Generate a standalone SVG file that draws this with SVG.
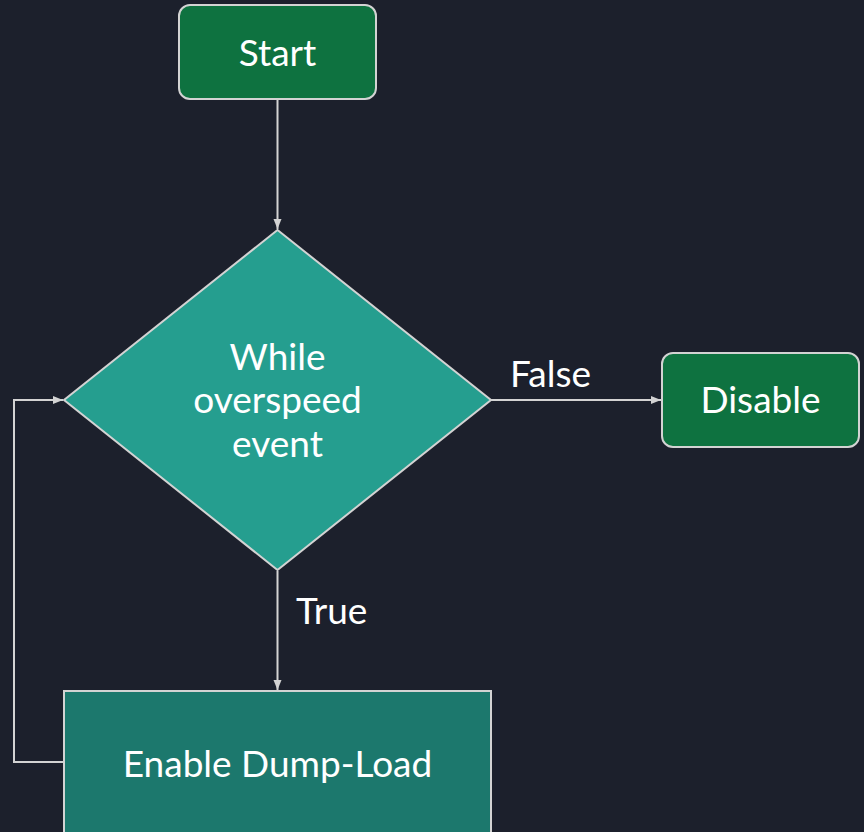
<svg xmlns="http://www.w3.org/2000/svg" width="864" height="832" viewBox="0 0 864 832">
<style>
.lbl{font-family:Lato,"Noto Sans","Liberation Sans",sans-serif;font-size:37px;fill:#ffffff;text-anchor:middle}
.edge{font-family:Lato,"Noto Sans","Liberation Sans",sans-serif;font-size:37px;fill:#ffffff}
.conn{fill:none;stroke:#d3d3d3;stroke-width:2}
.node{stroke:#d3d3d3;stroke-width:2}
</style>
<defs>
<marker id="arr" viewBox="0 0 10 10" refX="10" refY="5" markerWidth="10" markerHeight="10" markerUnits="userSpaceOnUse" orient="auto">
<path d="M0,1 L10,5 L0,9 z" fill="#d3d3d3"/>
</marker>
</defs>
<rect width="864" height="832" fill="#1c202c"/>
<g id="connectors">
<path class="conn" d="M277.5,99 V229" marker-end="url(#arr)"/>
<path class="conn" d="M491,400 H661" marker-end="url(#arr)"/>
<path class="conn" d="M277.5,571 V690" marker-end="url(#arr)"/>
<path class="conn" d="M64,762 H14 V400 H63" marker-end="url(#arr)"/>
<text class="edge" x="510" y="387">False</text>
<text class="edge" x="296" y="624">True</text>
</g>
<g id="start">
<rect class="node" x="179" y="5" width="197" height="94" rx="11" fill="#0e7240"/>
<text class="lbl" x="277.5" y="66">Start</text>
</g>
<g id="decision">
<polygon class="node" points="277.5,230 491,400 277.5,570 64,400" fill="#259e8f"/>
<text class="lbl" x="277.5" y="370">While</text>
<text class="lbl" x="277.5" y="413">overspeed</text>
<text class="lbl" x="277.5" y="457">event</text>
</g>
<g id="disable">
<rect class="node" x="662" y="353" width="197" height="94" rx="11" fill="#0e7240"/>
<text class="lbl" x="760.5" y="413">Disable</text>
</g>
<g id="enable">
<rect class="node" x="64" y="691" width="427" height="150" fill="#1c786d"/>
<text class="lbl" x="277.5" y="777">Enable Dump-Load</text>
</g>
</svg>
